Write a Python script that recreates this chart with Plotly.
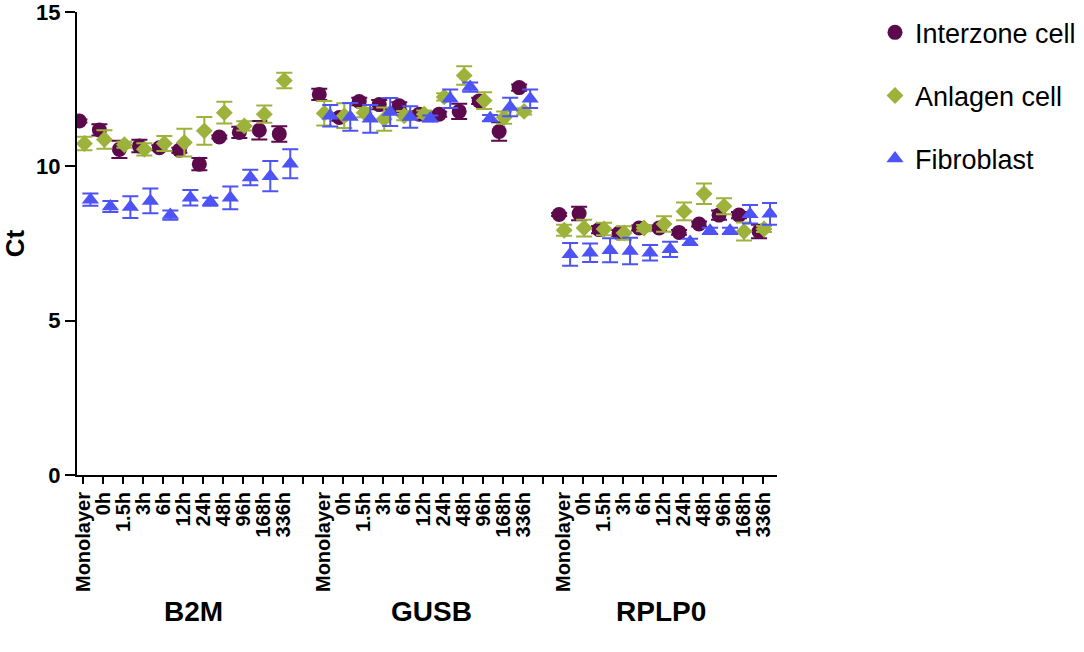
import plotly.graph_objects as go

# categories (time points) and gene groups
timepoints = ["Monolayer", "0h", "1.5h", "3h", "6h", "12h", "24h", "48h", "96h", "168h", "336h"]
genes = ["B2M", "GUSB", "RPLP0"]

# Ct means, one list per cell type, B2M + GUSB + RPLP0 in order
interzone = [11.47, 11.18, 10.55, 10.66, 10.60, 10.52, 10.07, 10.95, 11.10, 11.17, 11.05,
             12.33, 11.58, 12.10, 12.00, 11.96, 11.69, 11.69, 11.78, 12.12, 11.13, 12.55,
             8.44, 8.47, 7.95, 7.84, 8.00, 8.00, 7.86, 8.13, 8.42, 8.42, 7.89]
interzone_err = [0.05, 0.18, 0.28, 0.20, 0.08, 0.08, 0.20, 0.05, 0.18, 0.30, 0.25,
                 0.18, 0.10, 0.12, 0.15, 0.12, 0.10, 0.08, 0.25, 0.10, 0.30, 0.10,
                 0.05, 0.22, 0.12, 0.10, 0.08, 0.08, 0.08, 0.08, 0.15, 0.10, 0.22]

anlagen = [10.74, 10.87, 10.70, 10.55, 10.74, 10.77, 11.15, 11.74, 11.31, 11.69, 12.78,
           11.72, 11.64, 11.74, 11.53, 11.64, 11.69, 12.25, 12.94, 12.13, 11.58, 11.78,
           7.93, 8.00, 7.97, 7.84, 8.00, 8.13, 8.54, 9.11, 8.71, 7.89, 7.97]
anlagen_err = [0.22, 0.30, 0.10, 0.20, 0.24, 0.45, 0.45, 0.35, 0.15, 0.28, 0.25,
               0.40, 0.40, 0.15, 0.38, 0.15, 0.12, 0.12, 0.30, 0.27, 0.20, 0.10,
               0.18, 0.27, 0.20, 0.22, 0.10, 0.25, 0.29, 0.33, 0.26, 0.29, 0.10]

fibroblast = [8.92, 8.70, 8.68, 8.88, 8.42, 8.98, 8.85, 8.98, 9.64, 9.68, 10.08,
              11.64, 11.60, 11.54, 11.76, 11.60, 11.55, 12.19, 12.57, 11.56, 11.92, 12.19,
              7.15, 7.20, 7.28, 7.26, 7.20, 7.31, 7.55, 7.91, 7.91, 8.45, 8.46]
fibroblast_err = [0.20, 0.18, 0.35, 0.40, 0.15, 0.25, 0.13, 0.37, 0.25, 0.49, 0.47,
                  0.35, 0.45, 0.45, 0.45, 0.35, 0.10, 0.30, 0.15, 0.10, 0.30, 0.30,
                  0.37, 0.30, 0.39, 0.43, 0.25, 0.25, 0.10, 0.10, 0.10, 0.30, 0.35]

FONT = "Arial, Liberation Sans, sans-serif"

# x positions: 11 slots per gene plus one empty slot between genes
pos = []
for g in range(len(genes)):
    pos += [g * 12 + i for i in range(len(timepoints))]

tickvals = list(range(0, 35))
ticktext = []
for g in range(len(genes)):
    ticktext += timepoints
    if g < len(genes) - 1:
        ticktext.append("")

series = [
    ("Interzone cell", interzone, interzone_err, "#5c0a4c", "circle", 15, -0.2),
    ("Anlagen cell", anlagen, anlagen_err, "#9db23b", "diamond", 13, 0.05),
    ("Fibroblast", fibroblast, fibroblast_err, "#4d53f5", "triangle-up", 15, 0.35),
]

fig = go.Figure()
for name, vals, errs, color, symbol, size, shift in series:
    fig.add_trace(go.Scatter(
        x=[p + shift for p in pos], y=vals, name=name, mode="markers",
        legendgroup=name,
        marker=dict(color=color, symbol=symbol, size=size, line=dict(width=0)),
        error_y=dict(type="data", array=errs, color=color, thickness=2, width=8),
    ))

group_x = [5.5, 17.4, 28.9]
for gx, gene in zip(group_x, genes):
    fig.add_annotation(x=gx, y=-0.295, xref="x", yref="paper", text="<b>%s</b>" % gene,
                       showarrow=False, font=dict(family=FONT, size=28, color="black"),
                       yanchor="middle")

fig.update_layout(
    width=1084, height=652,
    margin=dict(l=77, r=307, t=12, b=177, autoexpand=False),
    plot_bgcolor="white", paper_bgcolor="white",
    font=dict(family=FONT, color="black"),
    showlegend=True,
    legend=dict(x=1.14, y=1.008, xanchor="left", yanchor="top",
                font=dict(family=FONT, size=27, color="black"),
                traceorder="grouped", tracegroupgap=25, itemsizing="trace"),
    xaxis=dict(range=[-0.32, 34.7], tickmode="array", tickvals=tickvals, ticktext=ticktext,
               tickangle=-90, ticks="outside", ticklen=7, tickwidth=2, tickcolor="black",
               showline=True, linewidth=2, linecolor="black", showgrid=False, zeroline=False,
               automargin=False, ticklabeloverflow="allow",
               tickfont=dict(family=FONT, size=20, color="black", weight="bold")),
    yaxis=dict(range=[0, 15], tickvals=[0, 5, 10, 15], ticks="outside", ticklen=10,
               tickwidth=2, tickcolor="black", showline=True, linewidth=2, linecolor="black",
               showgrid=False, zeroline=False, automargin=False, ticklabeloverflow="allow",
               tickfont=dict(family=FONT, size=22, color="black", weight="bold"),
               title=dict(text="<b>Ct</b>", font=dict(family=FONT, size=26, color="black"),
                          standoff=20)),
)

# drop the default body margin so the figure sits at the page corner
fig.write_html("out.html", config={"displayModeBar": False},
               post_script="document.body.style.margin='0';")
